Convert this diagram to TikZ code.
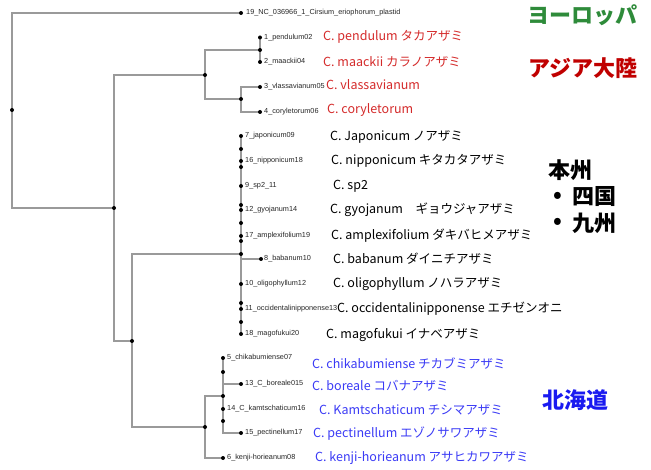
\documentclass[tikz,border=0pt]{standalone}
\usepackage{fontspec}
\newfontfamily\jp{Noto Sans CJK JP}
\newfontfamily\jpblack{Noto Sans CJK JP Black}
\newfontfamily\lab{Liberation Sans}
\definecolor{brc}{HTML}{9A9A9A}
\definecolor{asred}{HTML}{D42A2A}
\definecolor{asdark}{HTML}{C00000}
\definecolor{eugreen}{HTML}{2E8B3A}
\definecolor{hkblue}{HTML}{3A3AF5}
\definecolor{hkdark}{HTML}{1A1AF0}
\begin{document}
\begin{tikzpicture}[x=1pt,y=-1pt,
  br/.style={draw=brc, line width=1.6pt},
  leaflab/.style={anchor=west, font=\lab\fontsize{7.3}{8}\selectfont, inner sep=0pt, text=black!85},
  sp/.style={anchor=west, font=\jp\fontsize{12.5}{14}\selectfont, inner sep=0pt},
  region/.style={font=\jpblack\fontsize{22}{24}\selectfont, inner sep=0pt}]
\useasboundingbox (0,0) rectangle (651,470);
% tree nodes
\coordinate (root) at (12,110);
\coordinate (L19) at (241,13);
\coordinate (nA) at (114,208);
\coordinate (asia) at (205,75);
\coordinate (pm) at (260,50);
\coordinate (L1) at (260,37.5);
\coordinate (L2) at (260,62);
\coordinate (vc) at (241,99);
\coordinate (L3) at (260,87);
\coordinate (L4) at (260,112);
\coordinate (nB) at (132,341);
\coordinate (hon) at (241,254);
\coordinate (L7) at (241,136);
\coordinate (i1) at (241,149);
\coordinate (L16) at (241,161);
\coordinate (i2) at (241,167);
\coordinate (L9) at (241,186);
\coordinate (i3) at (241,205);
\coordinate (L12) at (241,210);
\coordinate (i4) at (241,223);
\coordinate (L17) at (241,236);
\coordinate (i5) at (241,241);
\coordinate (L8) at (261,259);
\coordinate (L10) at (241,284);
\coordinate (i6) at (241,303);
\coordinate (L11) at (241,309);
\coordinate (i7) at (241,322);
\coordinate (L18) at (241,334);
\coordinate (hok) at (205,427);
\coordinate (h2) at (223,396);
\coordinate (L5) at (223,358);
\coordinate (j1) at (223,372);
\coordinate (L13) at (241,384);
\coordinate (L14) at (223,409);
\coordinate (j2) at (223,421);
\coordinate (L15) at (241,433);
\coordinate (L6) at (223,458);
% branches
\draw[br] (root) |- (L19);
\draw[br] (root) |- (nA);
\draw[br] (nA) |- (asia);
\draw[br] (nA) |- (nB);
\draw[br] (asia) |- (pm);
\draw[br] (asia) |- (vc);
\draw[br] (pm) -- (L1);
\draw[br] (pm) -- (L2);
\draw[br] (vc) |- (L3);
\draw[br] (vc) |- (L4);
\draw[br] (nB) |- (hon);
\draw[br] (nB) |- (hok);
\draw[br] (hon) -- (L7);
\draw[br] (hon) -- (L18);
\draw[br] (hon) |- (L8);
\draw[br] (hok) |- (h2);
\draw[br] (hok) |- (L6);
\draw[br] (h2) -- (L5);
\draw[br] (h2) |- (L13);
\draw[br] (h2) |- (L15);
% dots
\foreach \p in {root,L19,nA,asia,pm,L1,L2,vc,L3,L4,nB,hon,L7,i1,L16,i2,L9,i3,L12,i4,L17,i5,L8,L10,i6,L11,i7,L18,hok,h2,L5,j1,L13,L14,j2,L15,L6}
  \fill (\p) circle (2pt);
% leaf labels
\node[leaflab] (t19) at (246,13) {19\_NC\_036966\_1\_Cirsium\_eriophorum\_plastid};
\node[leaflab] (t1) at (264,37.5) {1\_pendulum02};
\node[leaflab] (t2) at (264,62) {2\_maackii04};
\node[leaflab] (t3) at (264,87) {3\_vlassavianum05};
\node[leaflab] (t4) at (264,112) {4\_coryletorum06};
\node[leaflab] (t7) at (245,136) {7\_japonicum09};
\node[leaflab] (t16) at (245,161) {16\_nipponicum18};
\node[leaflab] (t9) at (245,186) {9\_sp2\_11};
\node[leaflab] (t12) at (245,210) {12\_gyojanum14};
\node[leaflab] (t17) at (245,236) {17\_amplexifolium19};
\node[leaflab] (t8) at (264,259) {8\_babanum10};
\node[leaflab] (t10) at (245,284) {10\_oligophyllum12};
\node[leaflab] (t11) at (245,309) {11\_occidentalinipponense13};
\node[leaflab] (t18) at (245,334) {18\_magofukui20};
\node[leaflab] (t5) at (227,358) {5\_chikabumiense07};
\node[leaflab] (t13) at (245,384) {13\_C\_boreale015};
\node[leaflab] (t14) at (227,409) {14\_C\_kamtschaticum16};
\node[leaflab] (t15) at (245,433) {15\_pectinellum17};
\node[leaflab] (t6) at (227,458) {6\_kenji-horieanum08};
% species labels
\node[sp, text=asred] (s1) at (323,37) {C. pendulum タカアザミ};
\node[sp, text=asred] (s2) at (323,62) {C. maackii カラノアザミ};
\node[sp, text=asred] (s3) at (326,85) {C. vlassavianum};
\node[sp, text=asred] (s4) at (327,110) {C. coryletorum};
\node[sp] (s7) at (330,137) {C. Japonicum ノアザミ};
\node[sp] (s16) at (331,161) {C. nipponicum キタカタアザミ};
\node[sp] (s9) at (333,186) {C. sp2};
\node[sp] (s12) at (330,210) {C. gyojanum　ギョウジャアザミ};
\node[sp] (s17) at (331,236) {C. amplexifolium ダキバヒメアザミ};
\node[sp] (s8) at (333,259) {C. babanum ダイニチアザミ};
\node[sp] (s10) at (333,284) {C. oligophyllum ノハラアザミ};
\node[sp] (s11) at (337,309) {C. occidentalinipponense エチゼンオニ};
\node[sp] (s18) at (326,335) {C. magofukui イナベアザミ};
\node[sp, text=hkblue] (s5) at (312,364) {C. chikabumiense チカブミアザミ};
\node[sp, text=hkblue] (s13) at (312,386) {C. boreale コバナアザミ};
\node[sp, text=hkblue] (s14) at (319,410) {C. Kamtschaticum チシマアザミ};
\node[sp, text=hkblue] (s15) at (313,434) {C. pectinellum エゾノサワアザミ};
\node[sp, text=hkblue] (s6) at (315,458) {C. kenji-horieanum アサヒカワアザミ};
% region labels
\node[region, text=eugreen, anchor=west] (rEu) at (527,15) {ヨーロッパ};
\node[region, text=asdark, anchor=west] (rAs) at (528,68) {アジア大陸};
\node[region, anchor=west] (rH) at (548,170) {本州};
\node[region, anchor=center] (b1) at (558,197) {•};
\node[region, anchor=west] (rS) at (572,197) {四国};
\node[region, anchor=center] (b2) at (558,223) {•};
\node[region, anchor=west] (rK) at (572,223) {九州};
\node[region, text=hkdark, anchor=west] (rHk) at (542,400) {北海道};
\end{tikzpicture}
\end{document}
